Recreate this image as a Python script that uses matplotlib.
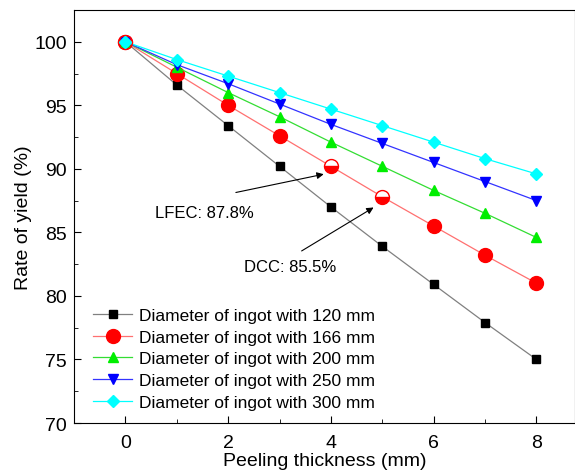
import matplotlib.pyplot as plt
from matplotlib.ticker import MultipleLocator

plt.rcParams['font.family'] = ['Liberation Sans', 'DejaVu Sans']

thickness = [0, 1, 2, 3, 4, 5, 6, 7, 8]
d120 = [100, 96.6, 93.4, 90.2, 87.0, 83.9, 80.9, 77.9, 75.0]
d166 = [100, 97.5, 95.0, 92.6, 90.2, 87.8, 85.5, 83.2, 81.0]
d200 = [100, 98.0, 96.0, 94.1, 92.1, 90.2, 88.3, 86.5, 84.6]
d250 = [100, 98.2, 96.7, 95.1, 93.5, 92.0, 90.5, 89.0, 87.5]
d300 = [100, 98.6, 97.3, 96.0, 94.7, 93.4, 92.1, 90.8, 89.6]
labels = ['Diameter of ingot with 120 mm', 'Diameter of ingot with 166 mm',
          'Diameter of ingot with 200 mm', 'Diameter of ingot with 250 mm',
          'Diameter of ingot with 300 mm']

fig = plt.figure(figsize=(5.75, 4.77), dpi=100)
ax = fig.add_axes([74/575, 1-424/477, 501/575, 413/477])

# 166 mm series: points at 4 and 5 mm are drawn half filled
hl = [4, 5]
ax.plot(thickness, d120, color='gray', lw=0.9, marker='s', ms=5.5,
        mfc='black', mec='black', label=labels[0])
ax.plot(thickness, d166, color='#ff7070', lw=0.9, marker='o', ms=10,
        mfc='red', mec='red', markevery=[0, 1, 2, 3, 6, 7, 8], label=labels[1])
ax.plot([thickness[i] for i in hl], [d166[i] for i in hl], ls='none', marker='o',
        ms=10, mfc='red', mec='red', fillstyle='bottom', markerfacecoloralt='white')
ax.plot(thickness, d200, color='#33dd33', lw=0.9, marker='^', ms=7.5,
        mfc='#00ee00', mec='#00ee00', label=labels[2])
ax.plot(thickness, d250, color='#3333ff', lw=0.9, marker='v', ms=7.5,
        mfc='blue', mec='blue', label=labels[3])
ax.plot(thickness, d300, color='cyan', lw=0.9, marker='D', ms=6.5,
        mfc='cyan', mec='cyan', label=labels[4])
# red outline on the first point like the original
ax.plot([0], [100], ls='none', marker='o', ms=10, mfc='none', mec='red', mew=1)
ax.plot([0], [100], ls='none', marker='D', ms=6.5, mfc='cyan', mec='cyan')

arrow = dict(arrowstyle='-|>', color='black', lw=0.8, mutation_scale=10,
             shrinkA=0, shrinkB=0)
ax.annotate('', xy=(3.86, 89.58), xytext=(2.15, 88.14), arrowprops=arrow)
ax.text(0.58, 86.56, 'LFEC: 87.8%', fontsize=12, ha='left', va='center')
ax.annotate('', xy=(4.83, 86.96), xytext=(3.43, 83.54), arrowprops=arrow)
ax.text(2.31, 82.3, 'DCC: 85.5%', fontsize=12, ha='left', va='center')

ax.set_xlim(-1, 8.75)
ax.set_ylim(70, 102.5)
ax.xaxis.set_major_locator(MultipleLocator(2))
ax.xaxis.set_minor_locator(MultipleLocator(1))
ax.yaxis.set_major_locator(MultipleLocator(5))
ax.yaxis.set_minor_locator(MultipleLocator(2.5))
ax.tick_params(which='both', direction='in', labelsize=14)
ax.tick_params(which='major', length=5, pad=5)
ax.tick_params(axis='x', which='major', pad=8)
ax.tick_params(which='minor', length=3)
ax.set_xlabel('Peeling thickness (mm)', fontsize=14, labelpad=1)
ax.set_ylabel('Rate of yield (%)', fontsize=14, labelpad=2)

ax.legend(loc='lower left', frameon=False, fontsize=12.5, handlelength=2.25,
          handletextpad=0.42, labelspacing=0.38, borderaxespad=0.35,
          bbox_to_anchor=(0.012, 0.0))

plt.savefig('out.png')
